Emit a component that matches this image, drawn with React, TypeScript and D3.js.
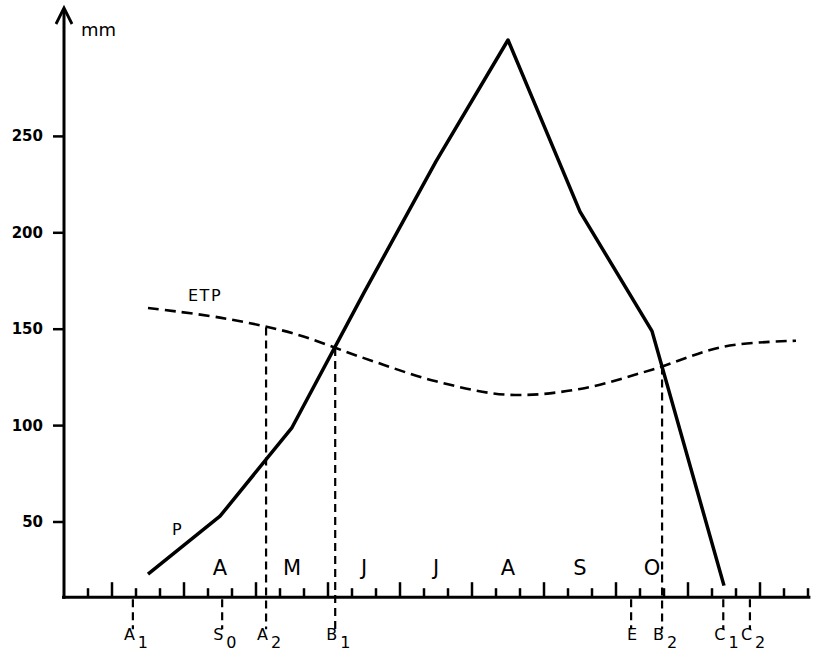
import { useEffect, useRef } from 'react';
import * as d3 from 'd3';

const WIDTH = 813;
const HEIGHT = 654;
const FONT = '"DejaVu Sans", sans-serif';

// time is in months counted from 1 January (3.5 = mid April)
const monthLetters = ['A', 'M', 'J', 'J', 'A', 'S', 'O'];
const monthLetterPos = [3.5, 4.5, 5.5, 6.5, 7.5, 8.5, 9.5];

// P : rainfall (mm)
const pMonths = [2.5, 3.5, 4.5, 5.5, 6.5, 7.5, 8.5, 9.5, 10.5];
const pValues = [23, 53, 99, 169, 237, 300, 211, 149, 17];

// ETP : potential evapotranspiration (mm)
const etpMonths = [2.5, 3.5, 4.5, 5.5, 6.5, 7.5, 8.5, 9.5, 10.5, 11.5];
const etpValues = [161, 156, 148, 135, 123, 116, 119, 129, 141, 144];

const yTicks = [50, 100, 150, 200, 250];

// reference dates under the axis
const markerNames = ['A', 'S', 'A', 'B', 'E', 'B', 'C', 'C'];
const markerSubs = ['1', '0', '2', '1', '', '2', '1', '2'];
const markerMonths = [2.29, 3.53, 4.14, 5.1, 9.21, 9.64, 10.49, 10.86];
const markerOnEtp = [false, false, true, true, false, true, false, false];

export default function App() {
  const ref = useRef<SVGSVGElement | null>(null);

  useEffect(() => {
    if (!ref.current) return;
    const svg = d3.select(ref.current);
    svg.selectAll('*').remove();

    const x = d3.scaleLinear().domain([0, 12]).range([-32, 832]);
    const y = d3.scaleLinear().domain([0, 300]).range([618.4, 40]);

    const axisStart = 4 / 3;
    const axisEnd = 11.7;
    const baseMm = 11; // the time axis sits a little above zero
    const y0 = y(baseMm);
    const x0 = x(axisStart);

    // dekad ticks (tall ones on month boundaries)
    const ticks = d3.range(5, 36).map(i => i / 3);
    const isMonth = (d: number) => Math.abs(d - Math.round(d)) < 1e-6;
    svg.append('g')
      .selectAll('line')
      .data(ticks)
      .enter()
      .append('line')
      .attr('x1', d => x(d))
      .attr('x2', d => x(d))
      .attr('y1', y0)
      .attr('y2', d => y0 - (isMonth(d) ? 15 : 9))
      .attr('stroke', '#000')
      .attr('stroke-width', 2.5);

    // x axis
    svg.append('line')
      .attr('x1', x0 - 2)
      .attr('x2', x(axisEnd))
      .attr('y1', y0)
      .attr('y2', y0)
      .attr('stroke', '#000')
      .attr('stroke-width', 3);

    // y axis with arrow
    svg.append('line')
      .attr('x1', x0)
      .attr('x2', x0)
      .attr('y1', y0 + 1.5)
      .attr('y2', 9)
      .attr('stroke', '#000')
      .attr('stroke-width', 3);
    svg.append('path')
      .attr('d', `M${x0 - 8},${24} L${x0},${8} L${x0 + 8},${24}`)
      .attr('fill', 'none')
      .attr('stroke', '#000')
      .attr('stroke-width', 2.8);

    svg.append('text')
      .attr('x', x0 + 17)
      .attr('y', 36)
      .attr('font-family', FONT)
      .attr('font-size', 18)
      .text('mm');

    // y ticks
    const yt = svg.append('g');
    yt.selectAll('line')
      .data(yTicks)
      .enter()
      .append('line')
      .attr('x1', x0 - 11)
      .attr('x2', x0)
      .attr('y1', d => y(d))
      .attr('y2', d => y(d))
      .attr('stroke', '#000')
      .attr('stroke-width', 2.5);
    yt.selectAll('text')
      .data(yTicks)
      .enter()
      .append('text')
      .attr('x', 43)
      .attr('y', d => y(d) + 5)
      .attr('text-anchor', 'end')
      .attr('font-family', FONT)
      .attr('font-weight', 'bold')
      .attr('font-size', 15)
      .text(d => d);

    // month letters
    svg.append('g')
      .selectAll('text')
      .data(monthLetters)
      .enter()
      .append('text')
      .attr('x', (d, i) => x(monthLetterPos[i]))
      .attr('y', 575)
      .attr('text-anchor', 'middle')
      .attr('font-family', FONT)
      .attr('font-size', 21)
      .text(d => d);

    // ETP curve
    const etpData = etpMonths.map((m, i) => [m, etpValues[i]] as [number, number]);
    const etpLine = d3.line<[number, number]>()
      .x(d => x(d[0]))
      .y(d => y(d[1]))
      .curve(d3.curveCatmullRom.alpha(0.5));
    svg.append('path')
      .datum(etpData)
      .attr('d', etpLine)
      .attr('fill', 'none')
      .attr('stroke', '#000')
      .attr('stroke-width', 2.6)
      .attr('stroke-dasharray', '11,6');

    svg.append('text')
      .attr('x', 188)
      .attr('y', 301)
      .attr('font-family', FONT)
      .attr('font-size', 16)
      .attr('letter-spacing', 1.5)
      .text('ETP');

    // markers (vertical dashed lines)
    const etpAt = d3.scaleLinear().domain(etpMonths).range(etpValues);
    const mk = svg.append('g');
    markerMonths.forEach((m, i) => {
      const top = markerOnEtp[i] ? y(etpAt(m)) : y0 + 2;
      mk.append('line')
        .attr('x1', x(m))
        .attr('x2', x(m))
        .attr('y1', top)
        .attr('y2', y0 + 32)
        .attr('stroke', '#000')
        .attr('stroke-width', 2.2)
        .attr('stroke-dasharray', '8,5');
      const t = mk.append('text')
        .attr('x', x(m) - (markerSubs[i] ? 9 : 4))
        .attr('y', 640)
        .attr('font-family', FONT)
        .attr('font-size', 16)
        .text(markerNames[i]);
      if (markerSubs[i]) {
        t.append('tspan')
          .attr('dx', 3)
          .attr('dy', 8)
          .text(markerSubs[i]);
      }
    });

    // P line
    const pData = pMonths.map((m, i) => [m, pValues[i]] as [number, number]);
    const pLine = d3.line<[number, number]>()
      .x(d => x(d[0]))
      .y(d => y(d[1]));
    svg.append('path')
      .datum(pData)
      .attr('d', pLine)
      .attr('fill', 'none')
      .attr('stroke', '#000')
      .attr('stroke-width', 3.5)
      .attr('stroke-linejoin', 'round');

    svg.append('text')
      .attr('x', 172)
      .attr('y', 535)
      .attr('font-family', FONT)
      .attr('font-size', 16)
      .text('P');
  }, []);

  return (
    <svg
      ref={ref}
      width={WIDTH}
      height={HEIGHT}
      style={{ position: 'absolute', left: 0, top: 0, background: '#fff' }}
    />
  );
}
